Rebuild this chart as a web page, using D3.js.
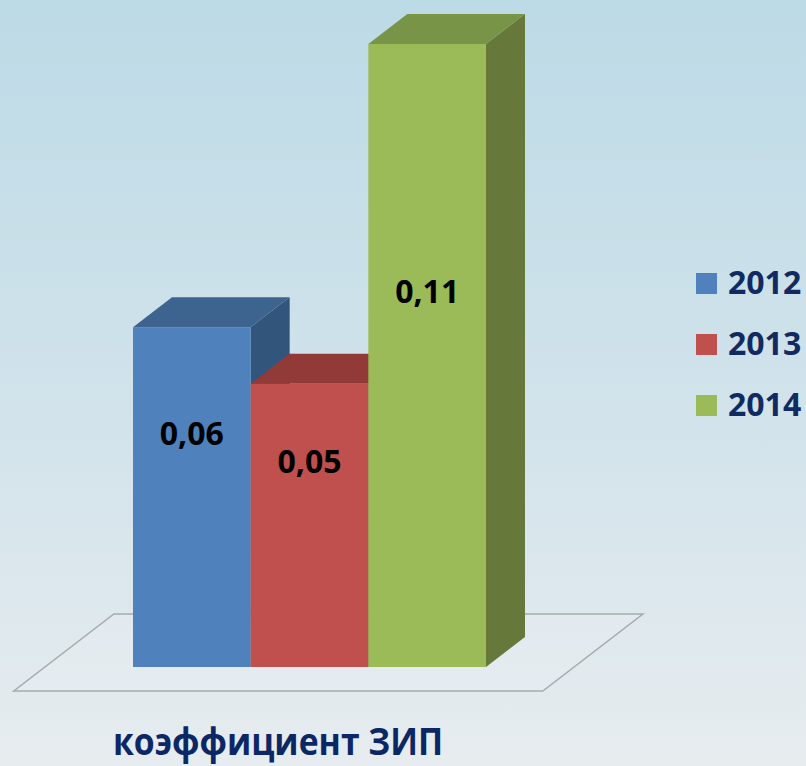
<!DOCTYPE html>
<html>
<head>
<meta charset="utf-8">
<script src="https://cdn.jsdelivr.net/npm/d3@7"></script>
<style>
  html, body { margin: 0; padding: 0; overflow: hidden; }
  svg { display: block; }
</style>
</head>
<body>
<div id="chart"></div>
<script>
// data
var years = ["2012", "2013", "2014"];
var values = [0.06, 0.05, 0.11];
var valueLabels = ["0,06", "0,05", "0,11"];
var category = "коэффициент ЗИП";

var width = 806, height = 766;
var front = ["#4f81bd", "#c0504d", "#9bbb59"];
var top_ = ["#3d638f", "#923a38", "#789446"];
var side = ["#31557b", "#7f3331", "#66793a"];
var depthX = 39, depthY = 30;

var svg = d3.select("#chart").append("svg")
  .attr("width", width).attr("height", height);

var defs = svg.append("defs");
var grad = defs.append("linearGradient").attr("id", "bg")
  .attr("x1", 0).attr("y1", 0).attr("x2", 0).attr("y2", 1);
grad.append("stop").attr("offset", "0%").attr("stop-color", "#bcdae6");
grad.append("stop").attr("offset", "55%").attr("stop-color", "#d2e3eb");
grad.append("stop").attr("offset", "100%").attr("stop-color", "#e7ecef");
svg.append("rect").attr("width", width).attr("height", height).attr("fill", "url(#bg)");

var x = d3.scaleBand().domain(years).range([133, 486]).padding(0);
var y = d3.scaleLinear().domain([0, 0.11]).range([667, 44]);

// floor
var base = y(0), ratio = depthX / depthY;
var fFront = base + 24, fBack = base - depthY - 23, margin = 88;
var xl = x.range()[0], xr = x.range()[1];
var floor = [
  [xl - margin - (fFront - base) * ratio, fFront],
  [xr + margin - (fFront - base) * ratio, fFront],
  [xr + margin + (base - fBack) * ratio, fBack],
  [xl - margin + (base - fBack) * ratio, fBack]
];
svg.append("polygon")
  .attr("points", floor.map(function(p) { return p.join(","); }).join(" "))
  .attr("fill", "rgba(255,255,255,0.12)")
  .attr("stroke", "#a8aaab").attr("stroke-width", 1.5);

// bars, left to right: side, top, front
var bars = svg.selectAll(".bar").data(years).enter().append("g").attr("class", "bar");
bars.each(function(d, i) {
  var g = d3.select(this);
  var x0 = x(d), x1 = x(d) + x.bandwidth(), yt = y(values[i]);
  g.append("polygon").attr("fill", side[i])
    .attr("points", [[x1, yt], [x1 + depthX, yt - depthY], [x1 + depthX, base - depthY], [x1, base]].join(" "));
  g.append("polygon").attr("fill", top_[i])
    .attr("points", [[x0, yt], [x1, yt], [x1 + depthX, yt - depthY], [x0 + depthX, yt - depthY]].join(" "));
  g.append("rect").attr("fill", front[i])
    .attr("x", x0).attr("y", yt).attr("width", x.bandwidth()).attr("height", base - yt);
});

// value labels
var labelAnchor = 0.0225;
svg.selectAll(".vlabel").data(years).enter().append("text")
  .attr("class", "vlabel")
  .attr("x", function(d) { return x(d) + x.bandwidth() / 2; })
  .attr("y", function(d, i) { return (y(values[i]) + y(labelAnchor)) / 2 + 11.4; })
  .attr("text-anchor", "middle")
  .attr("font-family", "Open Sans").attr("font-weight", "bold").attr("font-size", 32)
  .attr("fill", "#000")
  .text(function(d, i) { return valueLabels[i]; });

// category label
svg.append("text")
  .attr("x", 278).attr("y", 755)
  .attr("text-anchor", "middle")
  .attr("font-family", "Open Sans").attr("font-weight", "bold").attr("font-size", 38)
  .attr("textLength", 330).attr("lengthAdjust", "spacingAndGlyphs")
  .attr("fill", "#0c2766")
  .text(category);

// legend
var legend = svg.selectAll(".legend").data(years).enter().append("g")
  .attr("class", "legend")
  .attr("transform", function(d, i) { return "translate(696," + (273 + i * 61) + ")"; });
legend.append("rect").attr("width", 21).attr("height", 21)
  .attr("fill", function(d, i) { return front[i]; });
legend.append("text").attr("x", 32).attr("y", 21)
  .attr("font-family", "Open Sans").attr("font-weight", "bold").attr("font-size", 32)
  .attr("fill", "#112a61")
  .text(function(d) { return d; });
</script>
</body>
</html>
